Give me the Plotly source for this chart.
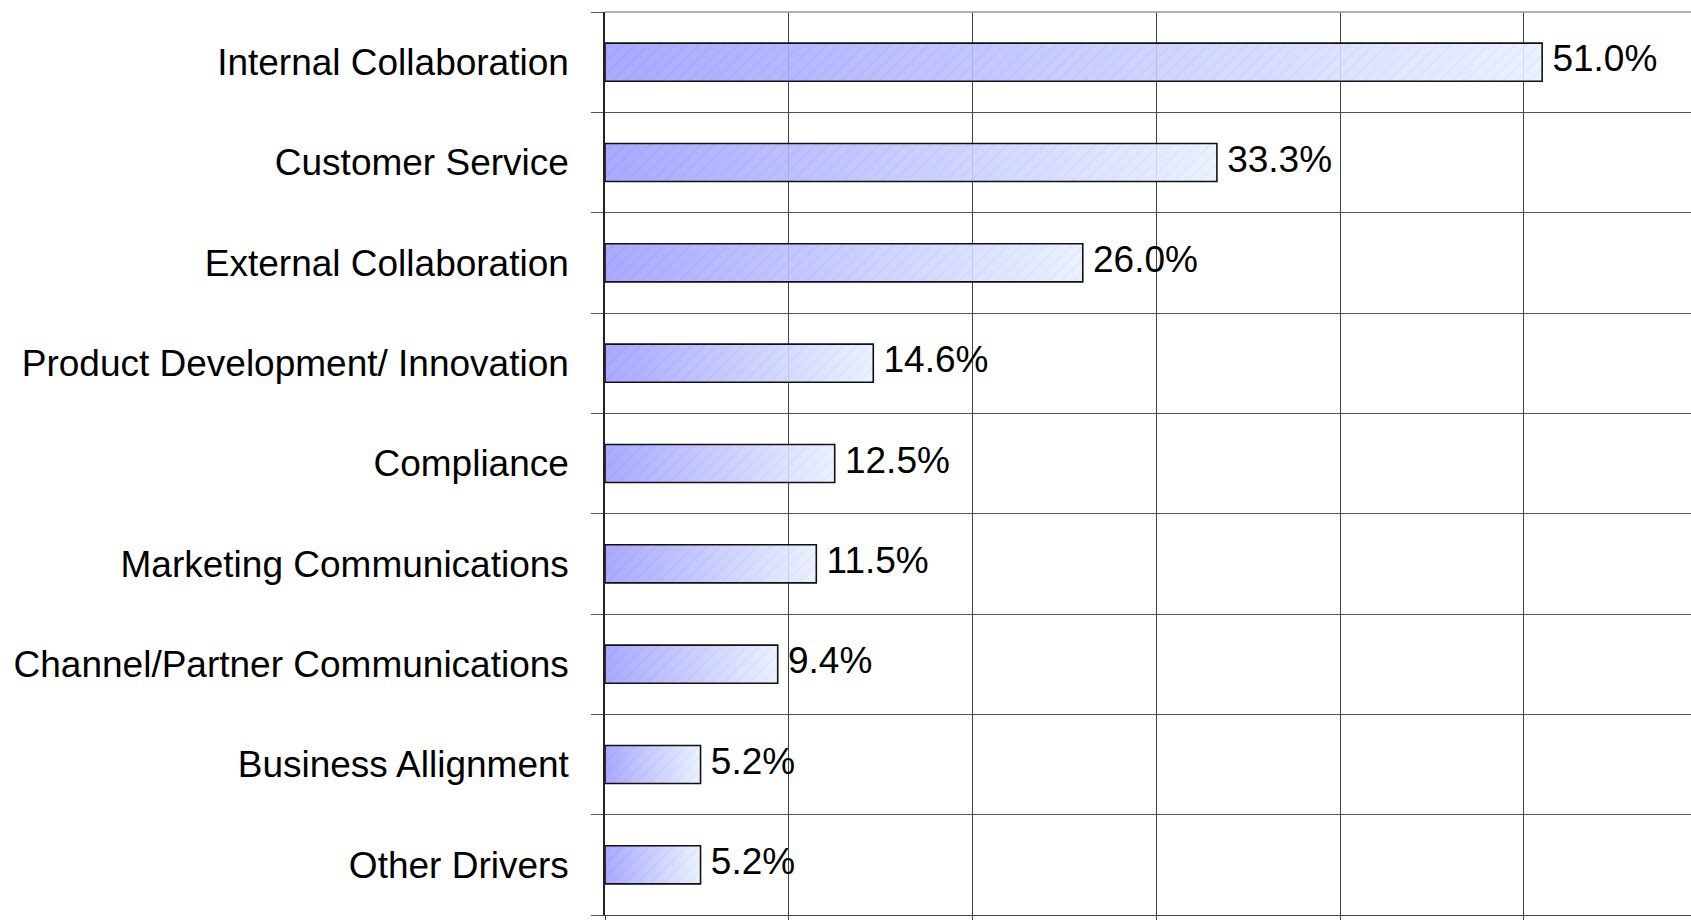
import plotly.graph_objects as go

categories = [
    "Internal Collaboration",
    "Customer Service",
    "External Collaboration",
    "Product Development/ Innovation",
    "Compliance",
    "Marketing Communications",
    "Channel/Partner Communications",
    "Business Allignment",
    "Other Drivers",
]
values = [51.0, 33.3, 26.0, 14.6, 12.5, 11.5, 9.4, 5.2, 5.2]
value_labels = ["51.0%", "33.3%", "26.0%", "14.6%", "12.5%", "11.5%", "9.4%", "5.2%", "5.2%"]

positions = list(range(len(categories)))
half = 0.19
FONT = "Liberation Sans, Arial, sans-serif"
FS = 37

fig = go.Figure()

# subtle diagonal stripe texture underneath
fig.add_trace(go.Bar(
    x=values, y=positions, orientation="h", width=2 * half,
    marker=dict(color="rgba(0,0,0,0)", line=dict(width=0),
                pattern=dict(shape="/", fgcolor="#7070ff", size=9, solidity=0.2)),
    hoverinfo="skip", showlegend=False,
))

# gradient-filled bars
for p, v in zip(positions, values):
    fig.add_trace(go.Scatter(
        x=[0, v, v, 0, 0],
        y=[p - half, p - half, p + half, p + half, p - half],
        mode="lines", fill="toself",
        fillgradient=dict(type="horizontal",
                          colorscale=[[0, "rgba(158,158,255,0.88)"], [1, "rgba(232,240,255,0.88)"]]),
        line=dict(color="#111111", width=1.6),
        hoverinfo="skip", showlegend=False,
    ))

# value labels
fig.add_trace(go.Scatter(
    x=values, y=positions, mode="text", text=[" " + t for t in value_labels],
    textposition="middle right",
    textfont=dict(family=FONT, size=FS, color="#000000"),
    hoverinfo="skip", showlegend=False,
))

fig.update_layout(
    width=1691, height=920,
    margin=dict(l=605, r=0, t=12, b=5),
    paper_bgcolor="white", plot_bgcolor="white",
    bargap=0,
    font=dict(family=FONT, size=FS, color="#000000"),
    xaxis=dict(
        range=[0, 59.1], dtick=10, tick0=0,
        showgrid=True, gridcolor="#444444", gridwidth=1.3,
        showticklabels=False, ticks="outside", ticklen=5, tickcolor="#444444",
        zeroline=False, showline=True, linecolor="#444444", linewidth=1.3,
        mirror=False,
    ),
    yaxis=dict(
        range=[8.5, -0.5],
        tickmode="array", tickvals=positions, ticktext=categories,
        ticks="", showgrid=False, zeroline=False,
        ticklabelstandoff=27,
        showline=True, linecolor="#222222", linewidth=1.5,
        tickfont=dict(family=FONT, size=FS, color="#000000"),
        minor=dict(tickmode="linear", tick0=0.5, dtick=1, showgrid=True,
                   gridcolor="#555555", gridwidth=1.3,
                   ticks="outside", ticklen=12, tickcolor="#555555", tickwidth=1.3),
    ),
    shapes=[dict(type="line", xref="paper", yref="paper", x0=0, x1=1, y0=1, y1=1,
                 line=dict(color="#999999", width=1.5))],
)

fig.write_html(
    "out.html",
    config={"displayModeBar": False},
    post_script="document.body.style.margin='0';document.body.style.overflow='hidden';",
)
